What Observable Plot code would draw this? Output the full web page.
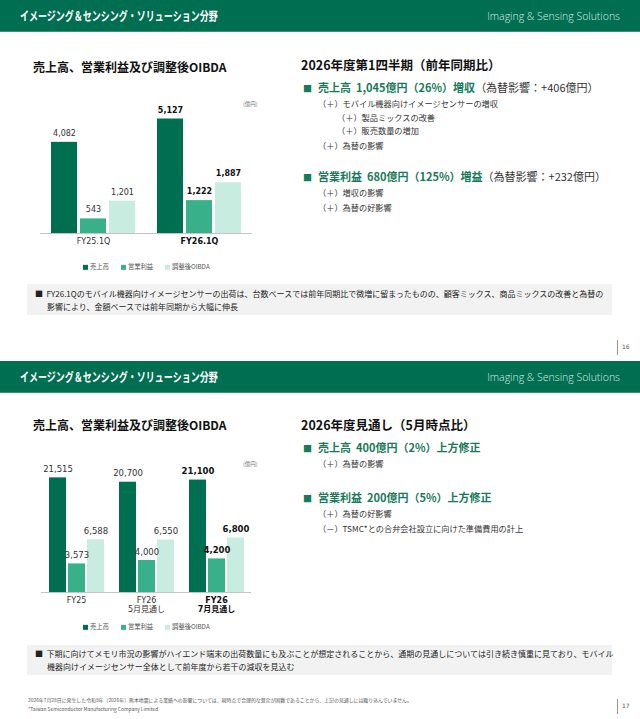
<!DOCTYPE html>
<html><head><meta charset="utf-8">
<script src="https://cdn.jsdelivr.net/npm/d3@7"></script>
<script src="https://cdn.jsdelivr.net/npm/@observablehq/plot@0.6"></script>
<style>
body{margin:0;background:#fff;}
#page{position:relative;width:640px;height:719px;overflow:hidden;font-family:"DejaVu Sans","Noto Sans CJK JP",sans-serif;color:#222;}
.t{position:absolute;white-space:nowrap;line-height:1;transform:translateY(-50%);}
.hdr{position:absolute;left:0;width:640px;height:31px;background:#006e51;border-bottom:1px solid #3d8f74;}
.hdr .ttl{position:absolute;left:20px;top:16px;transform:translateY(-50%) scaleX(0.72);transform-origin:left center;color:#fff;font-weight:bold;font-size:12.5px;font-family:"Noto Sans CJK JP";line-height:1;white-space:nowrap;}
.hdr .en{position:absolute;right:20px;top:16px;transform:translateY(-50%);color:#d7ebe3;font-size:10.5px;font-family:"Open Sans","DejaVu Sans";font-weight:300;line-height:1;}
.ctitle{font-size:12px;font-weight:bold;color:#111;font-family:"Noto Sans CJK JP";}
.rhead{font-size:12.5px;font-weight:bold;color:#111;font-family:"Noto Sans CJK JP";}
.bl{font-size:11px;font-family:"Noto Sans CJK JP";color:#333;}
.bl b{color:#17795a;}
.bl .sq{color:#17795a;margin-right:6px;font-size:9px;}
.sub{font-size:8.2px;font-family:"Noto Sans CJK JP";color:#333;}
.unit{font-size:5.5px;color:#777;font-family:"Noto Sans CJK JP";}
.note{position:absolute;left:27px;width:585px;background:#f2f2f2;}
.note .t{font-size:8px;font-family:"Noto Sans CJK JP";color:#222;}
.leg{font-size:6.3px;color:#555;font-family:"Noto Sans CJK JP";}
.leg i{display:inline-block;width:5px;height:5px;margin-right:2px;vertical-align:-0.5px;}
.pg{position:absolute;left:617px;width:1px;height:15px;background:#999;}
.pgn{font-size:6px;color:#555;}
.foot{font-size:4.9px;color:#555;font-family:"Noto Sans CJK JP";}
svg.layer{position:absolute;left:0;}
</style>
</head><body>
<div id="page">
  <!-- slide 1 -->
  <div class="hdr" style="top:0"><span class="ttl">イメージング＆センシング・ソリューション分野</span><span class="en">Imaging &amp; Sensing Solutions</span></div>
  <div class="t ctitle" style="left:33px;top:67px">売上高、営業利益及び調整後OIBDA</div>
  <div class="t unit" style="left:243px;top:105px">(億円)</div>
  <div class="t leg" style="left:83px;top:267px"><i style="background:#006e51"></i>売上高<span style="display:inline-block;width:12px"></span><i style="background:#38b08a"></i>営業利益<span style="display:inline-block;width:12px"></span><i style="background:#c8ecdf"></i>調整後OIBDA</div>

  <div class="t rhead" style="left:301px;top:65px">2026年度第1四半期（前年同期比）</div>
  <div class="t bl" style="left:303px;top:87px"><span class="sq">■</span><b>売上高 &nbsp;1,045億円（26%）増収</b>（為替影響：+406億円）</div>
  <div class="t sub" style="left:318px;top:103px">（＋）モバイル機器向けイメージセンサーの増収</div>
  <div class="t sub" style="left:337px;top:117px">（＋）製品ミックスの改善</div>
  <div class="t sub" style="left:337px;top:130px">（＋）販売数量の増加</div>
  <div class="t sub" style="left:318px;top:145px">（＋）為替の影響</div>
  <div class="t bl" style="left:303px;top:176px"><span class="sq">■</span><b>営業利益 &nbsp;680億円（125%）増益</b>（為替影響：+232億円）</div>
  <div class="t sub" style="left:318px;top:192px">（＋）増収の影響</div>
  <div class="t sub" style="left:318px;top:207px">（＋）為替の好影響</div>

  <div class="note" style="top:284px;height:31px">
    <div class="t" style="left:8px;top:10px">■&nbsp;&nbsp;FY26.1Qのモバイル機器向けイメージセンサーの出荷は、台数ベースでは前年同期比で微増に留まったものの、顧客ミックス、商品ミックスの改善と為替の</div>
    <div class="t" style="left:20px;top:23px">影響により、金額ベースでは前年同期から大幅に伸長</div>
  </div>
  <div class="pg" style="top:340px"></div>
  <div class="t pgn" style="left:622px;top:347px">16</div>

  <!-- slide 2 -->
  <div class="hdr" style="top:361px"><span class="ttl">イメージング＆センシング・ソリューション分野</span><span class="en">Imaging &amp; Sensing Solutions</span></div>
  <div class="t ctitle" style="left:33px;top:425px">売上高、営業利益及び調整後OIBDA</div>
  <div class="t unit" style="left:243px;top:465px">(億円)</div>
  <div class="t leg" style="left:83px;top:627px"><i style="background:#006e51"></i>売上高<span style="display:inline-block;width:12px"></span><i style="background:#38b08a"></i>営業利益<span style="display:inline-block;width:12px"></span><i style="background:#c8ecdf"></i>調整後OIBDA</div>

  <div class="t rhead" style="left:301px;top:425px">2026年度見通し（5月時点比）</div>
  <div class="t bl" style="left:303px;top:447px"><span class="sq">■</span><b>売上高 &nbsp;400億円（2%）上方修正</b></div>
  <div class="t sub" style="left:318px;top:463px">（＋）為替の影響</div>
  <div class="t bl" style="left:303px;top:497px"><span class="sq">■</span><b>営業利益 &nbsp;200億円（5%）上方修正</b></div>
  <div class="t sub" style="left:318px;top:513px">（＋）為替の好影響</div>
  <div class="t sub" style="left:318px;top:528px">（－）TSMC*との合弁会社設立に向けた準備費用の計上</div>

  <div class="note" style="top:645px;height:30px">
    <div class="t" style="left:8px;top:9px">■&nbsp;&nbsp;下期に向けてメモリ市況の影響がハイエンド端末の出荷数量にも及ぶことが想定されることから、通期の見通しについては引き続き慎重に見ており、モバイル</div>
    <div class="t" style="left:20px;top:22px">機器向けイメージセンサー全体として前年度から若干の減収を見込む</div>
  </div>
  <div class="t foot" style="left:28px;top:700px">2026年7月28日に発生した令和8年（2026年）熊本地震による業績への影響については、現時点で合理的な算定が困難であることから、上記の見通しには織り込んでいません。</div>
  <div class="t foot" style="left:28px;top:709px">*Taiwan Semiconductor Manufacturing Company Limited</div>
  <div class="pg" style="top:699px"></div>
  <div class="t pgn" style="left:622px;top:706px">17</div>
</div>
<script>
// ---- data ----
const seriesNames = ["売上高", "営業利益", "調整後OIBDA"];
const seriesColors = ["#006e51", "#38b08a", "#c8ecdf"];

const q1Categories = ["FY25.1Q", "FY26.1Q"];
const q1Sales = [4082, 5127];
const q1OpIncome = [543, 1222];
const q1Oibda = [1201, 1887];
const q1Highlight = ["FY26.1Q"];

const fyCategories = ["FY25", "FY26\n5月見通し", "FY26\n7月見通し"];
const fySales = [21515, 20700, 21100];
const fyOpIncome = [3573, 4000, 4200];
const fyOibda = [6588, 6550, 6800];
const fyHighlight = ["FY26\n7月見通し"];

function buildRows(cats, sales, op, oibda, hi) {
  const rows = [];
  cats.forEach((c, i) => {
    [sales[i], op[i], oibda[i]].forEach((v, j) => rows.push({cat: c, series: seriesNames[j], value: v, bold: hi.includes(c)}));
  });
  return rows;
}

const fmt = d3.format(",");

function layer(rows, cats, hi, cfg, withAxis) {
  const marks = [
    Plot.barY(rows, {fx: "cat", x: "series", y: "value", fill: "series"}),
    Plot.text(rows.filter(d => !d.bold), {fx: "cat", x: "series", y: "value", text: d => fmt(d.value), dy: cfg.labelDy, fontSize: cfg.labelSize, fill: "#333"}),
    Plot.text(rows.filter(d => d.bold), {fx: "cat", x: "series", y: "value", text: d => fmt(d.value), dy: cfg.labelDy, fontSize: cfg.labelSize, fontWeight: "bold", fill: "#111"})
  ];
  if (withAxis) {
    marks.push(Plot.ruleY([0], {stroke: "#c4c4c4", strokeWidth: 1}));
    marks.push(Plot.text(cats.filter(c => !hi.includes(c)), {fx: d => d, text: d => d, frameAnchor: "bottom", lineAnchor: "top", dy: 4, fontSize: 8, lineHeight: 1.1, fill: "#333", fontFamily: "DejaVu Sans, Noto Sans CJK JP"}));
    marks.push(Plot.text(cats.filter(c => hi.includes(c)), {fx: d => d, text: d => d, frameAnchor: "bottom", lineAnchor: "top", dy: 4, fontSize: 8, lineHeight: 1.1, fontWeight: "bold", fill: "#111", fontFamily: "DejaVu Sans, Noto Sans CJK JP"}));
  }
  const svg = Plot.plot({
    width: 280, height: 250,
    marginLeft: 40, marginRight: 28, marginTop: cfg.marginTop, marginBottom: cfg.marginBottom,
    fx: {domain: cats, padding: 0, axis: null},
    x: {domain: seriesNames, paddingInner: cfg.pi, paddingOuter: cfg.po, axis: null},
    y: {domain: cfg.yDomain, axis: null},
    color: {domain: seriesNames, range: seriesColors},
    style: {background: "transparent", fontFamily: "DejaVu Sans", overflow: "visible"},
    marks
  });
  svg.classList.add("layer");
  svg.style.top = cfg.top + "px";
  document.getElementById("page").appendChild(svg);
}

// chart 1 (sales drawn on its own scale, profits on a second one)
const q1Rows = buildRows(q1Categories, q1Sales, q1OpIncome, q1Oibda, q1Highlight);
const cfg1 = {top: 0, marginTop: 99, marginBottom: 17, pi: 0.103, po: 0.379, labelDy: -9, labelSize: 8};
layer(q1Rows.filter(d => d.series === "売上高"), q1Categories, q1Highlight, {...cfg1, yDomain: [0, 6000]}, true);
layer(q1Rows.filter(d => d.series !== "売上高"), q1Categories, q1Highlight, {...cfg1, yDomain: [0, 4980]}, false);

// chart 2
const fyRows = buildRows(fyCategories, fySales, fyOpIncome, fyOibda, fyHighlight);
const cfg2 = {top: 360, marginTop: 102, marginBottom: 18, pi: 0.13, po: 0.405, labelDy: -8.5, labelSize: 8.5};
layer(fyRows.filter(d => d.series === "売上高"), fyCategories, fyHighlight, {...cfg2, yDomain: [0, 24400]}, true);
layer(fyRows.filter(d => d.series !== "売上高"), fyCategories, fyHighlight, {...cfg2, yDomain: [0, 16250]}, false);
</script>
</body></html>
